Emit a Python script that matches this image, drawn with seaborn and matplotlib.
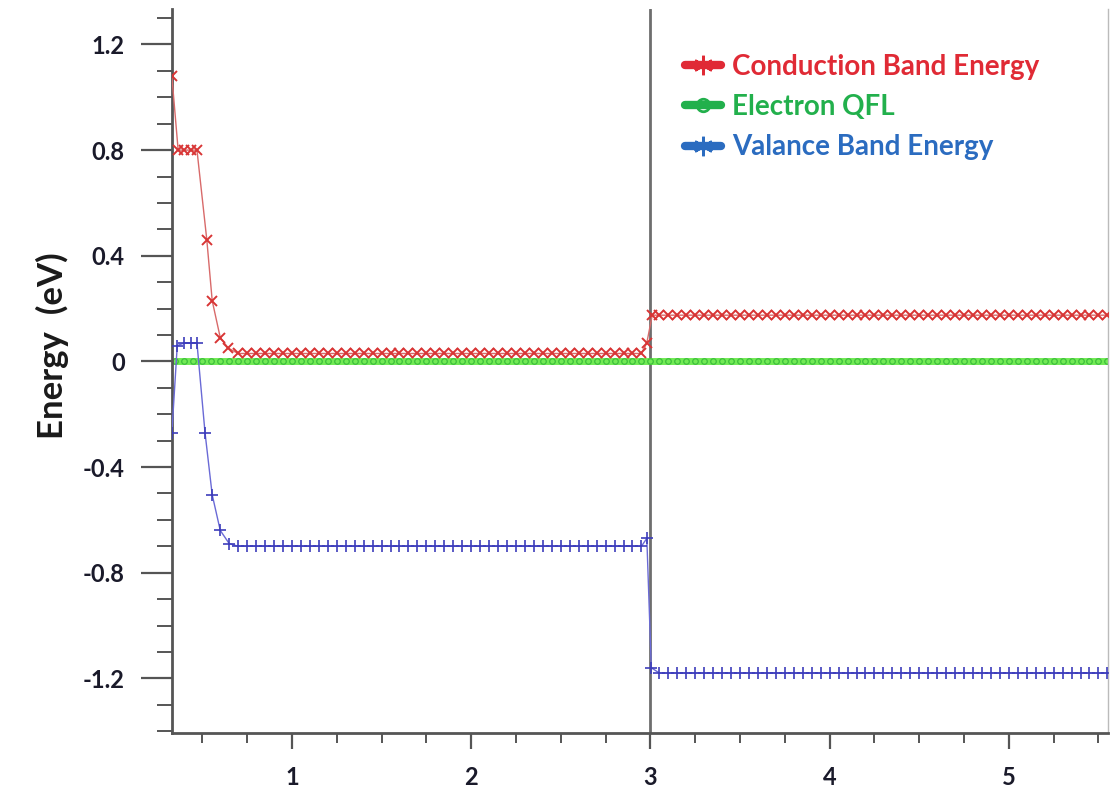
import matplotlib
matplotlib.use("Agg")
import matplotlib.pyplot as plt
from matplotlib.lines import Line2D
from matplotlib.ticker import MultipleLocator
import seaborn as sns

# ---------------- data ----------------
grid_left = [0.70, 0.75, 0.80, 0.85, 0.90, 0.95, 1.00, 1.05, 1.10, 1.15, 1.20, 1.25,
             1.30, 1.35, 1.40, 1.45, 1.50, 1.55, 1.60, 1.65, 1.70, 1.75, 1.80, 1.85,
             1.90, 1.95, 2.00, 2.05, 2.10, 2.15, 2.20, 2.25, 2.30, 2.35, 2.40, 2.45,
             2.50, 2.55, 2.60, 2.65, 2.70, 2.75, 2.80, 2.85, 2.90, 2.95]
grid_right = [3.05, 3.10, 3.15, 3.20, 3.25, 3.30, 3.35, 3.40, 3.45, 3.50, 3.55, 3.60,
              3.65, 3.70, 3.75, 3.80, 3.85, 3.90, 3.95, 4.00, 4.05, 4.10, 4.15, 4.20,
              4.25, 4.30, 4.35, 4.40, 4.45, 4.50, 4.55, 4.60, 4.65, 4.70, 4.75, 4.80,
              4.85, 4.90, 4.95, 5.00, 5.05, 5.10, 5.15, 5.20, 5.25, 5.30, 5.35, 5.40,
              5.45, 5.50, 5.55]

# Conduction band energy
cb_head_x = [0.33, 0.365, 0.40, 0.435, 0.47, 0.525, 0.555, 0.60, 0.645]
cb_head_y = [1.08, 0.80, 0.80, 0.80, 0.80, 0.46, 0.23, 0.09, 0.05]
cb_left_y = [0.03, 0.03, 0.03, 0.03, 0.03, 0.03, 0.03, 0.03, 0.03, 0.03, 0.03, 0.03,
             0.03, 0.03, 0.03, 0.03, 0.03, 0.03, 0.03, 0.03, 0.03, 0.03, 0.03, 0.03,
             0.03, 0.03, 0.03, 0.03, 0.03, 0.03, 0.03, 0.03, 0.03, 0.03, 0.03, 0.03,
             0.03, 0.03, 0.03, 0.03, 0.03, 0.03, 0.03, 0.03, 0.03, 0.03]
cb_mid_x = [2.98, 3.01]
cb_mid_y = [0.07, 0.175]
cb_right_y = [0.175, 0.175, 0.175, 0.175, 0.175, 0.175, 0.175, 0.175, 0.175, 0.175,
              0.175, 0.175, 0.175, 0.175, 0.175, 0.175, 0.175, 0.175, 0.175, 0.175,
              0.175, 0.175, 0.175, 0.175, 0.175, 0.175, 0.175, 0.175, 0.175, 0.175,
              0.175, 0.175, 0.175, 0.175, 0.175, 0.175, 0.175, 0.175, 0.175, 0.175,
              0.175, 0.175, 0.175, 0.175, 0.175, 0.175, 0.175, 0.175, 0.175, 0.175,
              0.175]

# Electron quasi-Fermi level
qfl_head_x = [0.35, 0.40, 0.45, 0.50, 0.55, 0.60, 0.65]
qfl_head_y = [0.0, 0.0, 0.0, 0.0, 0.0, 0.0, 0.0]
qfl_left_y = [0.0, 0.0, 0.0, 0.0, 0.0, 0.0, 0.0, 0.0, 0.0, 0.0, 0.0, 0.0,
              0.0, 0.0, 0.0, 0.0, 0.0, 0.0, 0.0, 0.0, 0.0, 0.0, 0.0, 0.0,
              0.0, 0.0, 0.0, 0.0, 0.0, 0.0, 0.0, 0.0, 0.0, 0.0, 0.0, 0.0,
              0.0, 0.0, 0.0, 0.0, 0.0, 0.0, 0.0, 0.0, 0.0, 0.0]
qfl_mid_x = [3.00]
qfl_mid_y = [0.0]
qfl_right_y = [0.0, 0.0, 0.0, 0.0, 0.0, 0.0, 0.0, 0.0, 0.0, 0.0, 0.0, 0.0,
               0.0, 0.0, 0.0, 0.0, 0.0, 0.0, 0.0, 0.0, 0.0, 0.0, 0.0, 0.0,
               0.0, 0.0, 0.0, 0.0, 0.0, 0.0, 0.0, 0.0, 0.0, 0.0, 0.0, 0.0,
               0.0, 0.0, 0.0, 0.0, 0.0, 0.0, 0.0, 0.0, 0.0, 0.0, 0.0, 0.0,
               0.0, 0.0, 0.0]

# Valence band energy
vb_head_x = [0.33, 0.36, 0.40, 0.435, 0.47, 0.515, 0.555, 0.60, 0.65]
vb_head_y = [-0.27, 0.06, 0.07, 0.07, 0.07, -0.27, -0.505, -0.64, -0.69]
vb_left_y = [-0.70, -0.70, -0.70, -0.70, -0.70, -0.70, -0.70, -0.70, -0.70, -0.70,
             -0.70, -0.70, -0.70, -0.70, -0.70, -0.70, -0.70, -0.70, -0.70, -0.70,
             -0.70, -0.70, -0.70, -0.70, -0.70, -0.70, -0.70, -0.70, -0.70, -0.70,
             -0.70, -0.70, -0.70, -0.70, -0.70, -0.70, -0.70, -0.70, -0.70, -0.70,
             -0.70, -0.70, -0.70, -0.70, -0.70, -0.70]
vb_mid_x = [2.98, 3.005]
vb_mid_y = [-0.67, -1.16]
vb_right_y = [-1.18, -1.18, -1.18, -1.18, -1.18, -1.18, -1.18, -1.18, -1.18, -1.18,
              -1.18, -1.18, -1.18, -1.18, -1.18, -1.18, -1.18, -1.18, -1.18, -1.18,
              -1.18, -1.18, -1.18, -1.18, -1.18, -1.18, -1.18, -1.18, -1.18, -1.18,
              -1.18, -1.18, -1.18, -1.18, -1.18, -1.18, -1.18, -1.18, -1.18, -1.18,
              -1.18, -1.18, -1.18, -1.18, -1.18, -1.18, -1.18, -1.18, -1.18, -1.18,
              -1.18]

labels = ["Conduction Band Energy", "Electron QFL", "Valance Band Energy"]
y_ticks = [-1.2, -0.8, -0.4, 0.0, 0.4, 0.8, 1.2]
y_tick_labels = ["-1.2", "-0.8", "-0.4", "0", "0.4", "0.8", "1.2"]
x_ticks = [1, 2, 3, 4, 5]
x_tick_labels = ["1", "2", "3", "4", "5"]

cb_x = cb_head_x + grid_left + cb_mid_x + grid_right
cb_y = cb_head_y + cb_left_y + cb_mid_y + cb_right_y
qfl_x = qfl_head_x + grid_left + qfl_mid_x + grid_right
qfl_y = qfl_head_y + qfl_left_y + qfl_mid_y + qfl_right_y
vb_x = vb_head_x + grid_left + vb_mid_x + grid_right
vb_y = vb_head_y + vb_left_y + vb_mid_y + vb_right_y

# ---------------- styling ----------------
sns.set_style("ticks")
plt.rcParams["font.family"] = ["Lato", "DejaVu Sans"]

fig = plt.figure(figsize=(11.10, 7.88), dpi=100)
ax = fig.add_axes([0.155, 0.0698, 0.843, 0.919])

ax.axvline(3.0, color="#6e6e6e", lw=2.0, zorder=1)

sns.lineplot(x=qfl_x, y=qfl_y, ax=ax, sort=False, estimator=None,
             color="#72ea55", lw=5.0, marker="o", markersize=4,
             markerfacecolor="none", markeredgecolor="#3cbf3c",
             markeredgewidth=0.9, zorder=2)
sns.lineplot(x=cb_x, y=cb_y, ax=ax, sort=False, estimator=None,
             color="#d86a6a", lw=1.0, marker="x", markersize=7,
             markeredgecolor="#d83535", markeredgewidth=1.4, zorder=3)
sns.lineplot(x=vb_x, y=vb_y, ax=ax, sort=False, estimator=None,
             color="#6a6ad6", lw=1.0, marker="+", markersize=8,
             markeredgecolor="#3d3dbb", markeredgewidth=1.2, zorder=3)

ax.set_xlim(0.331, 5.552)
ax.set_ylim(-1.407, 1.335)

ax.set_xticks(x_ticks)
ax.set_xticklabels(x_tick_labels)
ax.set_yticks(y_ticks)
ax.set_yticklabels(y_tick_labels)
ax.xaxis.set_minor_locator(MultipleLocator(0.25))
ax.yaxis.set_minor_locator(MultipleLocator(0.1))

spine_c = "#555555"
for s in ["left", "bottom"]:
    ax.spines[s].set_color(spine_c)
    ax.spines[s].set_linewidth(2.0)
ax.spines["top"].set_visible(False)
ax.spines["right"].set_color("#bbbbbb")
ax.spines["right"].set_linewidth(1.0)

ax.tick_params(axis="y", which="major", length=22, width=1.6, color=spine_c,
               pad=12, labelsize=17)
ax.tick_params(axis="y", which="minor", length=11, width=1.4, color=spine_c)
ax.tick_params(axis="x", which="major", length=11.5, width=1.6, color=spine_c,
               pad=12, labelsize=17)
ax.tick_params(axis="x", which="minor", length=7, width=1.4, color=spine_c)
for lab in ax.get_xticklabels() + ax.get_yticklabels():
    lab.set_fontweight("bold")
    lab.set_color("#1a1a2a")

ax.set_ylabel("Energy  (eV)", fontsize=25, fontweight="bold", color="#1a1a1a")
ax.yaxis.set_label_coords(-0.110, 0.535)
ax.set_xlabel("")

handles = [
    Line2D([0], [0], color="#e02a35", lw=6, marker=(6, 2, 0), markersize=14,
           markeredgewidth=2, markeredgecolor="#e02a35"),
    Line2D([0], [0], color="#22b04c", lw=6, marker="o", markersize=9,
           markerfacecolor="none", markeredgewidth=2, markeredgecolor="#22b04c"),
    Line2D([0], [0], color="#2b6cc0", lw=6, marker=(6, 2, 0), markersize=14,
           markeredgewidth=2, markeredgecolor="#2b6cc0"),
]
fig.legend(handles, labels, loc="upper left", bbox_to_anchor=(0.617, 0.932),
           frameon=False, handlelength=1.3, handletextpad=0.4,
           labelspacing=0.52, borderpad=0, borderaxespad=0,
           labelcolor=["#e02a35", "#22b04c", "#2b6cc0"],
           prop={"weight": "bold", "size": 20})

fig.savefig("out.png", dpi=100)
